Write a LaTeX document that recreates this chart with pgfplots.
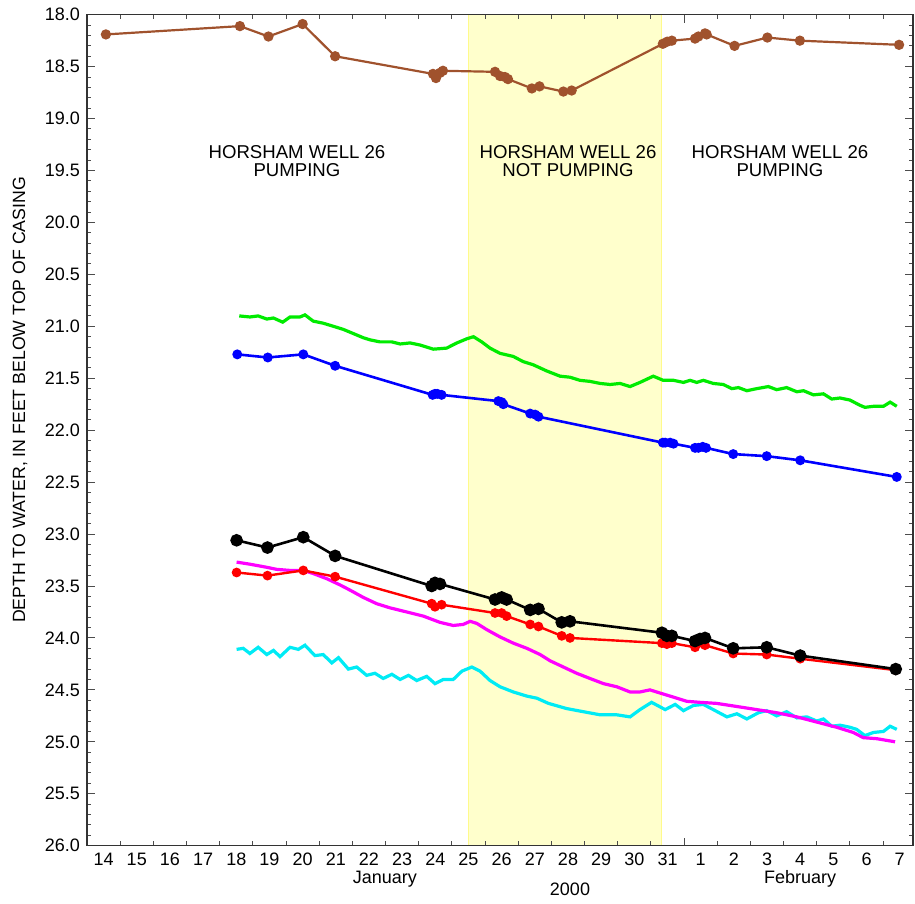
\documentclass[border=0pt]{standalone}
\usepackage{fontspec}
\setmainfont{Liberation Sans}
\usepackage{pgfplots}
\pgfplotsset{compat=1.18}
\definecolor{wbrown}{RGB}{160,82,45}
\definecolor{wgreen}{RGB}{0,235,0}
\definecolor{wcyan}{RGB}{0,235,245}
\definecolor{wmag}{RGB}{255,0,255}
\definecolor{shade}{RGB}{255,255,204}
\definecolor{shadeedge}{RGB}{255,250,140}
\begin{document}
\begin{tikzpicture}
\begin{axis}[
  scale only axis, width=413pt, height=415.5pt,
  xmin=14, xmax=38.9, ymin=18, ymax=26, y dir=reverse,
  axis on top, clip mode=individual,
  axis line style={black!80, line width=0.7pt},
  every tick/.style={black!70, line width=0.5pt},
  major tick length=4pt, minor tick length=2.2pt,
  xtick={32}, xticklabels={},
  minor xtick={15,16,...,38},
  extra x ticks={14.5,15.5,...,38.5},
  extra x tick labels={14,15,16,17,18,19,20,21,22,23,24,25,26,27,28,29,30,31,1,2,3,4,5,6,7},
  extra x tick style={tick style={draw=none}},
  ytick={18,18.5,...,26}, minor y tick num=4,
  scaled y ticks=false,
  /pgf/number format/fixed, /pgf/number format/fixed zerofill,
  /pgf/number format/precision=1, /pgf/number format/assume math mode=true,
  every tick label/.append style={font=\fontsize{9}{11}\selectfont, black},
]
% pumping-off period
\addplot[fill=shade, draw=shadeedge, line width=0.6pt] coordinates {(25.49,18) (25.49,26) (31.33,26) (31.33,18)};

% green (continuous record)
\addplot[wgreen, line width=1.6pt] table {
18.59 20.90
18.91 20.91
19.16 20.90
19.42 20.93
19.62 20.92
19.90 20.96
20.12 20.91
20.42 20.91
20.57 20.89
20.82 20.95
21.12 20.97
21.43 21.00
21.73 21.03
22.03 21.07
22.33 21.11
22.53 21.13
22.83 21.15
23.19 21.15
23.44 21.17
23.74 21.16
24.04 21.18
24.44 21.22
24.84 21.21
25.15 21.16
25.45 21.12
25.65 21.10
25.90 21.15
26.15 21.21
26.45 21.26
26.85 21.29
27.15 21.34
27.45 21.37
27.86 21.43
28.26 21.48
28.56 21.49
28.86 21.52
29.16 21.53
29.47 21.55
29.77 21.56
30.07 21.55
30.37 21.58
30.67 21.54
31.07 21.48
31.37 21.52
31.68 21.52
31.98 21.54
32.18 21.52
32.38 21.54
32.58 21.52
32.88 21.55
33.18 21.56
33.44 21.60
33.64 21.59
33.89 21.62
34.19 21.60
34.54 21.58
34.79 21.61
35.09 21.59
35.40 21.63
35.60 21.62
35.90 21.66
36.20 21.65
36.45 21.70
36.70 21.69
37.00 21.71
37.30 21.76
37.45 21.78
37.71 21.77
38.01 21.77
38.21 21.73
38.41 21.77
};

% cyan (continuous record)
\addplot[wcyan, line width=1.6pt] table {
18.51 24.11
18.71 24.10
18.91 24.15
19.16 24.09
19.42 24.16
19.62 24.12
19.82 24.18
20.12 24.09
20.37 24.11
20.57 24.07
20.87 24.17
21.12 24.16
21.38 24.24
21.58 24.19
21.88 24.30
22.13 24.28
22.43 24.36
22.68 24.34
22.93 24.39
23.19 24.35
23.44 24.40
23.69 24.36
23.94 24.41
24.24 24.37
24.49 24.44
24.74 24.40
25.04 24.40
25.30 24.32
25.60 24.28
25.85 24.32
26.15 24.41
26.45 24.47
26.85 24.52
27.26 24.56
27.56 24.58
27.91 24.63
28.46 24.68
28.96 24.71
29.47 24.74
29.97 24.74
30.37 24.76
30.67 24.69
31.02 24.62
31.43 24.69
31.73 24.64
31.98 24.70
32.28 24.65
32.58 24.64
32.88 24.69
33.29 24.76
33.59 24.73
33.89 24.78
34.24 24.72
34.49 24.70
34.79 24.75
35.09 24.71
35.40 24.77
35.70 24.76
36.00 24.80
36.20 24.78
36.45 24.85
36.70 24.84
37.00 24.86
37.20 24.88
37.45 24.94
37.71 24.91
38.01 24.90
38.21 24.85
38.41 24.88
};

% magenta (continuous record)
\addplot[wmag, line width=1.6pt] table {
18.51 23.27
18.91 23.29
19.42 23.32
19.72 23.34
20.12 23.35
20.52 23.35
20.82 23.38
21.23 23.43
21.63 23.49
21.93 23.54
22.33 23.61
22.73 23.67
23.13 23.71
23.64 23.75
24.14 23.79
24.64 23.85
25.04 23.88
25.34 23.87
25.55 23.84
25.75 23.86
26.05 23.92
26.45 23.99
26.85 24.05
27.26 24.10
27.66 24.16
27.96 24.22
28.36 24.28
28.76 24.34
29.16 24.39
29.57 24.44
29.97 24.47
30.37 24.52
30.67 24.52
30.97 24.50
31.27 24.53
31.68 24.57
32.08 24.61
32.48 24.62
32.98 24.63
33.59 24.66
34.19 24.69
34.79 24.72
35.40 24.76
36.00 24.81
36.60 24.86
37.10 24.91
37.40 24.96
37.81 24.97
38.36 25.00
};

% brown
\addplot[wbrown, line width=1.1pt, mark=*, mark size=2pt] table {
14.57 18.19
18.61 18.11
19.47 18.21
20.50 18.09
21.48 18.40
24.43 18.57
24.52 18.61
24.64 18.56
24.73 18.54
26.30 18.55
26.45 18.59
26.60 18.60
26.69 18.62
27.41 18.71
27.64 18.69
28.36 18.74
28.61 18.73
31.36 18.28
31.49 18.26
31.63 18.25
32.33 18.23
32.43 18.21
32.63 18.18
32.68 18.19
33.52 18.30
34.51 18.22
35.49 18.25
38.48 18.29
};

% blue
\addplot[blue, line width=1.3pt, mark=*, mark size=1.8pt] table {
18.53 21.27
19.45 21.30
20.52 21.27
21.48 21.38
24.42 21.66
24.49 21.65
24.56 21.65
24.69 21.66
26.40 21.72
26.50 21.73
26.55 21.75
27.36 21.84
27.51 21.85
27.61 21.87
31.36 22.12
31.43 22.12
31.58 22.12
31.68 22.13
32.33 22.17
32.43 22.17
32.56 22.16
32.66 22.17
33.48 22.23
34.49 22.25
35.50 22.29
38.41 22.45
};

% red
\addplot[red, line width=1.2pt, mark=*, mark size=1.8pt] table {
18.51 23.37
19.44 23.40
20.52 23.35
21.48 23.41
24.39 23.67
24.49 23.70
24.69 23.68
26.30 23.76
26.50 23.76
26.65 23.79
27.36 23.87
27.61 23.89
28.31 23.98
28.56 24.00
31.33 24.05
31.48 24.06
31.63 24.05
32.33 24.09
32.63 24.07
33.48 24.15
34.49 24.16
35.50 24.20
38.38 24.31
};

% black
\addplot[black, line width=1.3pt, mark=*, mark size=2.5pt] table {
18.51 23.06
19.44 23.13
20.52 23.03
21.48 23.21
24.39 23.50
24.49 23.47
24.64 23.48
26.30 23.63
26.50 23.61
26.65 23.63
27.36 23.73
27.61 23.72
28.31 23.85
28.56 23.84
31.33 23.95
31.48 23.98
31.63 23.98
32.33 24.03
32.48 24.01
32.63 24.00
33.48 24.10
34.49 24.09
35.50 24.17
38.38 24.30
};

\node[align=center, font=\fontsize{9.3}{9}\selectfont] at (axis cs:20.33,19.41) {HORSHAM WELL 26\\PUMPING};
\node[align=center, font=\fontsize{9.3}{9}\selectfont] at (axis cs:28.50,19.41) {HORSHAM WELL 26\\NOT PUMPING};
\node[align=center, font=\fontsize{9.3}{9}\selectfont] at (axis cs:34.89,19.41) {HORSHAM WELL 26\\PUMPING};

\node[anchor=base, font=\fontsize{9}{11}\selectfont] at (axis cs:22.98,26.365) {January};
\node[anchor=base, font=\fontsize{9}{11}\selectfont] at (axis cs:35.50,26.365) {February};
\node[anchor=base, font=\fontsize{9}{11}\selectfont] at (axis cs:28.56,26.475) {2000};

\node[rotate=90, anchor=center, font=\fontsize{8.85}{10}\selectfont] at (axis cs:11.98,21.71) {DEPTH TO WATER, IN FEET BELOW TOP OF CASING};

\coordinate (bl) at (axis cs:14,26);
\coordinate (tr) at (axis cs:38.9,18);
\end{axis}
\pgfresetboundingbox
\path (bl) ++(-43.5pt,-29pt) rectangle ([shift={(1pt,7.35pt)}]tr);
\end{tikzpicture}
\end{document}
